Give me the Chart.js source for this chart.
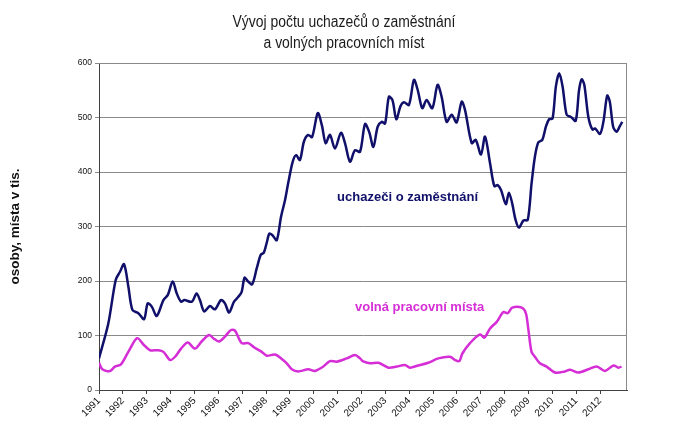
<!DOCTYPE html>
<html>
<head>
<meta charset="utf-8">
<script src="https://cdn.jsdelivr.net/npm/chart.js@4.4.0/dist/chart.umd.min.js"></script>
<style>
  html, body { margin: 0; padding: 0; background: #fff; }
  #graf { display: block; }
</style>
</head>
<body>
<canvas id="graf" width="682" height="427"></canvas>
<script>
// roky na ose x
const roky = [1991, 1992, 1993, 1994, 1995, 1996, 1997, 1998, 1999, 2000, 2001,
              2002, 2003, 2004, 2005, 2006, 2007, 2008, 2009, 2010, 2011, 2012];

const nadpis = ['Vývoj počtu uchazečů o zaměstnání', 'a volných pracovních míst'];

// uchazeči o zaměstnání (tis.) - čas v letech, hodnota
const casUchazeci = [
  1991.00, 1991.39, 1991.70, 1991.88, 1992.05, 1992.23, 1992.40, 1992.65, 1992.89, 1993.04,
  1993.21, 1993.42, 1993.70, 1993.88, 1994.09, 1994.26, 1994.44, 1994.58, 1994.89, 1995.09,
  1995.23, 1995.41, 1995.65, 1995.86, 1996.11, 1996.28, 1996.45, 1996.66, 1996.84, 1996.98,
  1997.10, 1997.25, 1997.42, 1997.61, 1997.78, 1997.91, 1998.04, 1998.14, 1998.27, 1998.45,
  1998.63, 1998.80, 1998.94, 1999.12, 1999.26, 1999.42, 1999.59, 1999.77, 1999.93, 2000.17,
  2000.34, 2000.50, 2000.68, 2000.89, 2001.14, 2001.31, 2001.52, 2001.73, 2001.94, 2002.15,
  2002.32, 2002.50, 2002.68, 2002.85, 2002.99, 2003.15, 2003.30, 2003.46, 2003.64, 2003.78,
  2003.99, 2004.20, 2004.36, 2004.55, 2004.73, 2004.97, 2005.19, 2005.36, 2005.57, 2005.78,
  2005.99, 2006.20, 2006.34, 2006.62, 2006.79, 2007.01, 2007.18, 2007.39, 2007.57, 2007.71,
  2007.85, 2008.05, 2008.18, 2008.32, 2008.46, 2008.60, 2008.79, 2008.97, 2009.13, 2009.27,
  2009.41, 2009.58, 2009.73, 2009.87, 2010.01, 2010.15, 2010.29, 2010.43, 2010.60, 2010.78,
  2010.98, 2011.12, 2011.23, 2011.34, 2011.51, 2011.68, 2011.79, 2012.00, 2012.14, 2012.30,
  2012.41, 2012.55, 2012.69, 2012.83, 2012.93
];
const uchazeci = [
  58, 122, 202, 217, 231, 190, 147, 141, 130, 159,
  153, 136, 165, 174, 199, 177, 162, 165, 162, 177,
  165, 144, 154, 148, 165, 159, 142, 162, 171, 180,
  206, 199, 194, 223, 248, 252, 272, 287, 284, 275,
  318, 349, 382, 419, 431, 422, 456, 468, 464, 508,
  486, 453, 468, 443, 472, 453, 419, 440, 437, 488,
  474, 446, 483, 492, 489, 538, 532, 497, 521, 528,
  523, 569, 550, 517, 532, 517, 560, 538, 492, 505,
  491, 529, 514, 453, 459, 432, 465, 416, 374, 376,
  367, 341, 362, 342, 312, 298, 311, 312, 379, 428,
  454, 459, 483, 497, 498, 557, 581, 557, 505, 501,
  494, 550, 570, 560, 501, 478, 480, 470, 492, 540,
  529, 483, 474, 484, 492
];

// volná pracovní místa (tis.)
const casMista = [
  1991.00, 1991.14, 1991.46, 1991.67, 1991.92, 1992.23, 1992.60, 1992.85, 1993.14, 1993.49,
  1993.70, 1993.98, 1994.19, 1994.44, 1994.72, 1995.02, 1995.30, 1995.61, 1995.79, 1996.03,
  1996.28, 1996.53, 1996.70, 1996.98, 1997.26, 1997.51, 1997.82, 1998.03, 1998.38, 1998.66,
  1998.87, 1999.08, 1999.35, 1999.77, 2000.05, 2000.40, 2000.68, 2000.96, 2001.38, 2001.73,
  2001.94, 2002.05, 2002.36, 2002.71, 2003.13, 2003.48, 2003.82, 2004.03, 2004.38, 2004.80,
  2005.22, 2005.71, 2005.92, 2006.10, 2006.23, 2006.55, 2006.97, 2007.15, 2007.39, 2007.67,
  2007.95, 2008.13, 2008.32, 2008.72, 2008.89, 2008.99, 2009.13, 2009.27, 2009.48, 2009.76,
  2010.11, 2010.53, 2010.74, 2011.09, 2011.51, 2011.86, 2012.21, 2012.56, 2012.77, 2012.90
];
const mista = [
  50, 38, 35, 43, 47, 70, 95, 84, 73, 73,
  70, 55, 61, 76, 87, 76, 89, 101, 95, 89,
  98, 110, 109, 86, 86, 78, 70, 63, 65, 57,
  49, 38, 34, 38, 35, 43, 53, 52, 58, 64,
  58, 53, 49, 50, 41, 43, 46, 41, 45, 50,
  58, 61, 55, 53, 67, 86, 102, 96, 113, 125,
  143, 141, 151, 151, 141, 113, 70, 61, 49, 43,
  32, 34, 37, 32, 38, 43, 35, 45, 41, 43
];

const modra = '#10106a';
const fialova = '#d62ed6';

// nadpis přes celou šířku, rámeček grafu a popisky řad
const popisky = {
  id: 'popisky',
  beforeDatasetsDraw(chart) {
    const { ctx, chartArea: a } = chart;
    ctx.save();
    ctx.strokeStyle = '#8a8a8a';
    ctx.lineWidth = 1;
    ctx.beginPath();
    ctx.moveTo(a.left, a.top + 0.5);
    ctx.lineTo(a.right - 0.5, a.top + 0.5);
    ctx.lineTo(a.right - 0.5, a.bottom);
    ctx.stroke();
    ctx.restore();
  },
  afterDraw(chart) {
    const { ctx } = chart;
    ctx.save();
    ctx.fillStyle = '#1a1a1a';
    ctx.font = '16px "Liberation Sans", Arial, sans-serif';
    ctx.textAlign = 'center';
    ctx.textBaseline = 'middle';
    ctx.translate(chart.width / 2 + 3, 0);
    ctx.scale(0.87, 1);
    ctx.fillText(nadpis[0], 0, 23);
    ctx.fillText(nadpis[1], 0, 44);
    ctx.restore();
  },
  afterDatasetsDraw(chart) {
    const { ctx, scales: { x, y } } = chart;
    ctx.save();
    ctx.font = 'bold 13px "Liberation Sans", Arial, sans-serif';
    ctx.textBaseline = 'middle';
    ctx.fillStyle = modra;
    ctx.fillText('uchazeči o zaměstnání', x.getPixelForValue(2000.98), y.getPixelForValue(353));
    ctx.fillStyle = fialova;
    ctx.fillText('volná pracovní místa', x.getPixelForValue(2001.73), y.getPixelForValue(152));
    ctx.restore();
  }
};

new Chart(document.getElementById('graf'), {
  type: 'line',
  data: {
    datasets: [
      {
        label: 'uchazeči o zaměstnání',
        data: casUchazeci.map((t, i) => ({ x: t, y: uchazeci[i] })),
        borderColor: modra,
        borderWidth: 2.5,
        pointRadius: 0,
        tension: 0.3,
        fill: false
      },
      {
        label: 'volná pracovní místa',
        data: casMista.map((t, i) => ({ x: t, y: mista[i] })),
        borderColor: fialova,
        borderWidth: 2.5,
        pointRadius: 0,
        tension: 0.3,
        fill: false
      }
    ]
  },
  options: {
    responsive: false,
    animation: false,
    layout: { padding: { left: 0, right: 55, top: 63, bottom: 0 } },
    plugins: {
      legend: { display: false },
      tooltip: { enabled: false },
      title: { display: false }
    },
    scales: {
      x: {
        type: 'linear',
        min: 1991,
        max: 2013.13,
        afterBuildTicks: (s) => { s.ticks = roky.map(r => ({ value: r })); },
        afterFit: (s) => { s.height = 37; },
        grid: { drawOnChartArea: false, tickLength: 4, color: '#404040' },
        border: { color: '#404040', width: 1 },
        ticks: {
          autoSkip: false,
          minRotation: 45,
          maxRotation: 45,
          padding: 1,
          color: '#111',
          font: { family: '"Liberation Sans", Arial, sans-serif', size: 10 },
          callback: (v) => String(v)
        }
      },
      y: {
        min: 0,
        max: 600,
        afterFit: (s) => { s.width = 99; },
        grid: { color: '#8a8a8a', tickLength: 4 },
        border: { color: '#404040', width: 1 },
        ticks: {
          stepSize: 100,
          padding: 3,
          color: '#111',
          font: { family: '"Liberation Sans", Arial, sans-serif', size: 8.5 }
        },
        title: {
          display: true,
          text: 'osoby, místa v tis.',
          color: '#111',
          font: { family: '"Liberation Sans", Arial, sans-serif', size: 13.5, weight: 'bold' },
          padding: { top: 7, bottom: 0 }
        }
      }
    }
  },
  plugins: [popisky]
});
</script>
</body>
</html>
